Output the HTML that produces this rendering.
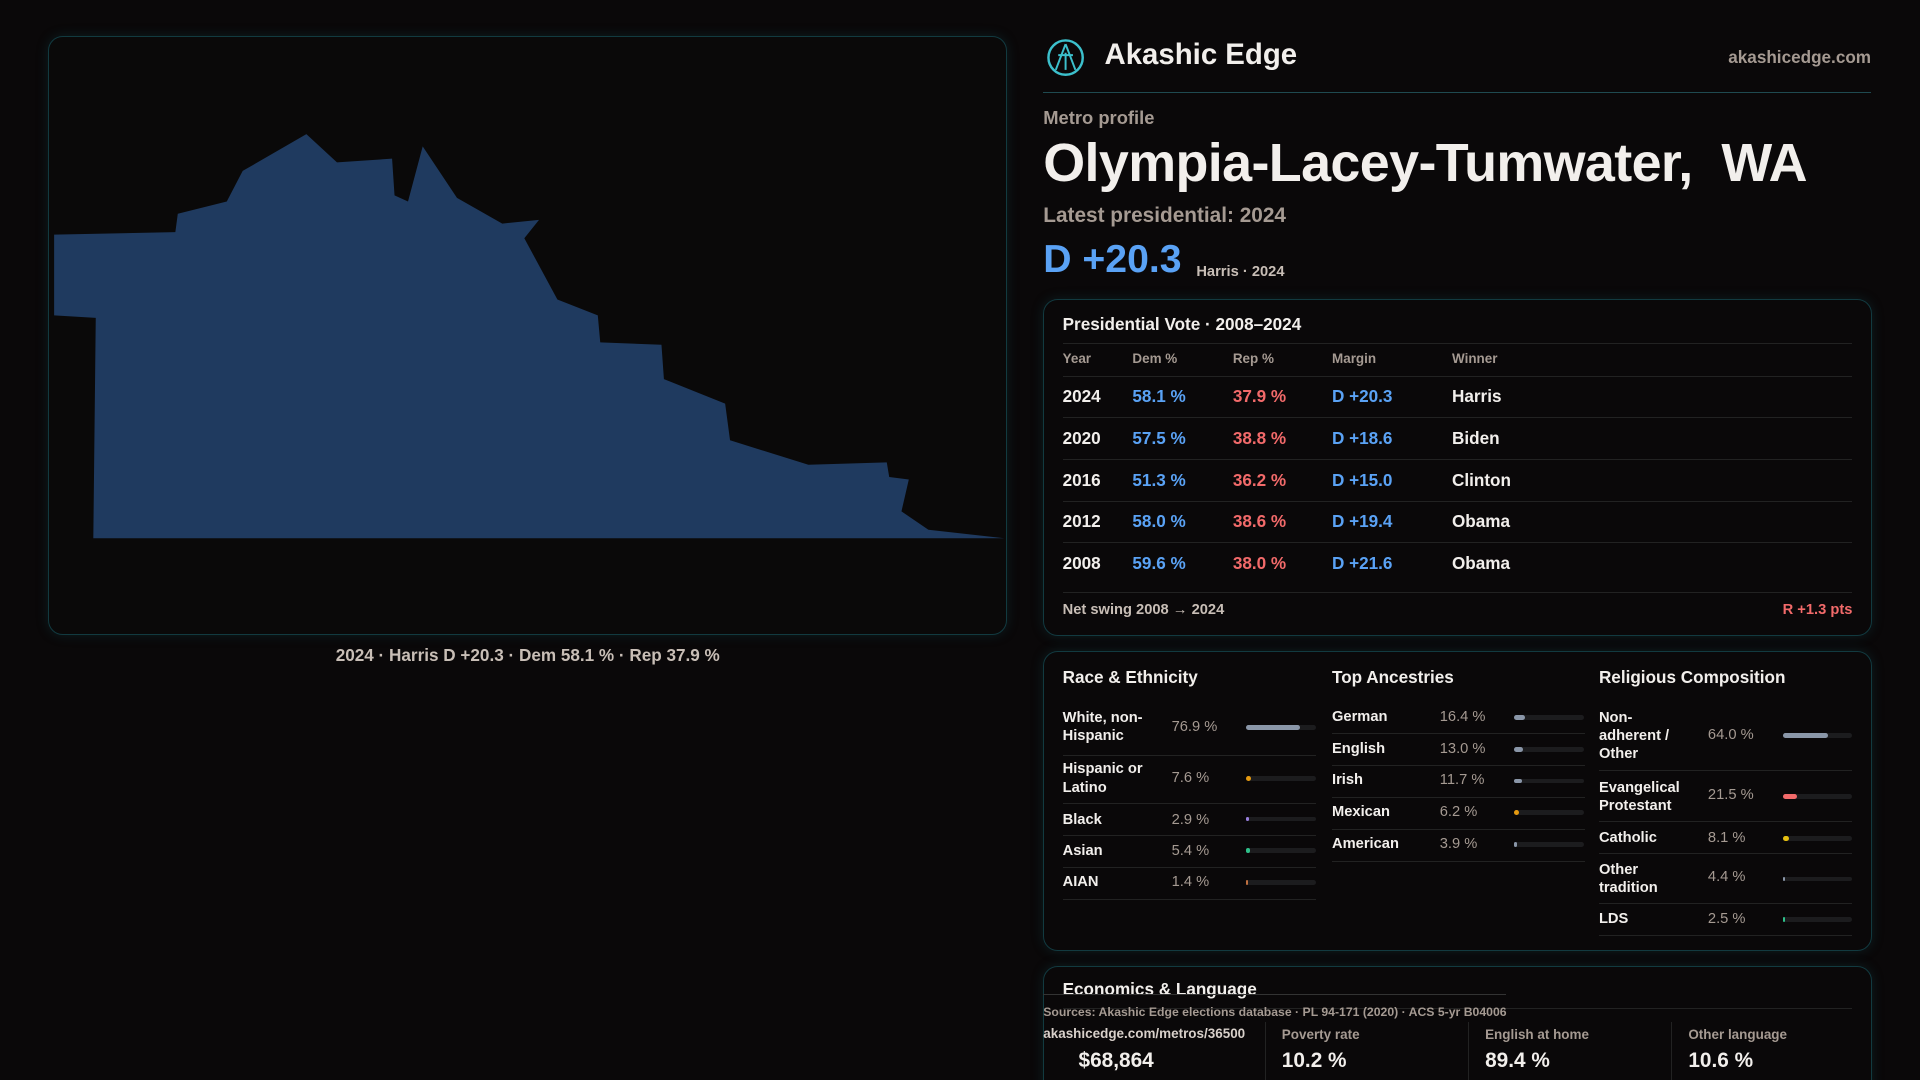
<!DOCTYPE html>
<html><head><meta charset="utf-8"><style>
html,body{margin:0;padding:0;background:#0a0809;}
#w{zoom:1.22449;width:1568px;height:882px;position:relative;overflow:hidden;font-family:"Liberation Sans",sans-serif;color:#f2efec;}
.a{position:absolute;}
.panel{position:absolute;border:1px solid #123a40;border-radius:12px;box-shadow:0 0 10px rgba(20,90,100,.25);}
.mut{color:#a59a92;}
.blue{color:#5aa2f5}.red{color:#f26a6a}
table{border-collapse:collapse;}
.row{position:absolute;left:15px;right:15px;border-top:1px solid #222;font-size:14px;font-weight:bold;}
.bar{position:absolute;height:4px;background:#1c1c1e;border-radius:2px;width:57px;}
.bar i{display:block;height:4px;border-radius:2px;}
.dl{font-size:12px;font-weight:bold;}
.dv{font-size:12px;color:#a59a92;}
</style></head><body><div id="w">
<div class="panel" style="left:39px;top:29px;width:782px;height:488px;background:#0a0909;">
<svg width="782" height="488" style="position:absolute;left:-1px;top:-1px">
<polygon fill="#1f3a5f" transform="translate(-39,-29)" points="44,192 143,190 145,175 185,165 198,140 250,110 275,133 320,130 322,160 333,165 345,120 373,162 410,183 440,180 428,195 455,245 488,258 490,280 540,282 542,310 592,330 596,360 660,380 724,378 726,390 742,392 736,418 758,433 820,440 76,440 78,260 44,258"/>
</svg></div>
<div class="a mut" style="left:0;width:862px;top:527px;text-align:center;font-size:14px;font-weight:bold;color:#c8beb6">2024 · Harris D +20.3 · Dem 58.1 % · Rep 37.9 %</div>

<svg class="a" style="left:854px;top:31px" width="32" height="32"><circle cx="16" cy="16" r="14" fill="none" stroke="#3cc0cc" stroke-width="2"/><path d="M16 5 L8 26 M16 5 L24 26 M10 14 L22 14 M16 12 L16 26" stroke="#3cc0cc" stroke-width="1.6" fill="none"/></svg>
<div class="a" style="left:902px;top:31px;font-size:24px;font-weight:bold">Akashic Edge</div>
<div class="a mut" style="right:40px;top:38px;font-size:14px;font-weight:bold">akashicedge.com</div>
<div class="a" style="left:852px;top:75px;width:676px;border-top:1px solid #1f4a50"></div>
<div class="a mut" style="left:852px;top:87px;font-size:15px;font-weight:bold">Metro profile</div>
<div class="a" style="left:852px;top:108px;font-size:44px;font-weight:bold;letter-spacing:-0.5px">Olympia-Lacey-Tumwater,&nbsp; WA</div>
<div class="a mut" style="left:852px;top:167px;font-size:17px;font-weight:bold">Latest presidential: 2024</div>
<div class="a blue" style="left:852px;top:194px;font-size:32px;font-weight:bold">D +20.3</div>
<div class="a" style="left:977px;top:216px;font-size:12px;font-weight:bold;color:#c8beb6">Harris · 2024</div>

<div class="panel" style="left:852px;top:244px;width:675px;height:274px;">
<div class="a" style="left:15px;top:12px;font-size:14px;font-weight:bold">Presidential Vote · 2008–2024</div>
<div class="a" style="left:15px;right:15px;top:35px;border-top:1px solid #222"></div>
<div class="a mut" style="top:42px;left:15px;font-size:11px;font-weight:bold">Year</div>
<div class="a mut" style="top:42px;left:72px;font-size:11px;font-weight:bold">Dem %</div>
<div class="a mut" style="top:42px;left:154px;font-size:11px;font-weight:bold">Rep %</div>
<div class="a mut" style="top:42px;left:235px;font-size:11px;font-weight:bold">Margin</div>
<div class="a mut" style="top:42px;left:333px;font-size:11px;font-weight:bold">Winner</div>
<div class="row" style="top:62px;height:34px"><span class="a" style="top:8px">2024</span><span class="a blue" style="top:8px;left:57px">58.1 %</span><span class="a red" style="top:8px;left:139px">37.9 %</span><span class="a blue" style="top:8px;left:220px">D +20.3</span><span class="a" style="top:8px;left:318px">Harris</span></div>
<div class="row" style="top:96px;height:34px"><span class="a" style="top:8px">2020</span><span class="a blue" style="top:8px;left:57px">57.5 %</span><span class="a red" style="top:8px;left:139px">38.8 %</span><span class="a blue" style="top:8px;left:220px">D +18.6</span><span class="a" style="top:8px;left:318px">Biden</span></div>
<div class="row" style="top:130px;height:34px"><span class="a" style="top:8px">2016</span><span class="a blue" style="top:8px;left:57px">51.3 %</span><span class="a red" style="top:8px;left:139px">36.2 %</span><span class="a blue" style="top:8px;left:220px">D +15.0</span><span class="a" style="top:8px;left:318px">Clinton</span></div>
<div class="row" style="top:164px;height:34px"><span class="a" style="top:8px">2012</span><span class="a blue" style="top:8px;left:57px">58.0 %</span><span class="a red" style="top:8px;left:139px">38.6 %</span><span class="a blue" style="top:8px;left:220px">D +19.4</span><span class="a" style="top:8px;left:318px">Obama</span></div>
<div class="row" style="top:198px;height:34px"><span class="a" style="top:8px">2008</span><span class="a blue" style="top:8px;left:57px">59.6 %</span><span class="a red" style="top:8px;left:139px">38.0 %</span><span class="a blue" style="top:8px;left:220px">D +21.6</span><span class="a" style="top:8px;left:318px">Obama</span></div>
<div class="a" style="left:15px;right:15px;top:239px;border-top:1px solid #222"></div>
<div class="a" style="left:15px;top:247px;font-size:12px;font-weight:bold;color:#c8beb6">Net swing 2008 → 2024</div>
<div class="a red" style="right:15px;top:247px;font-size:12px;font-weight:bold">R +1.3 pts</div>
</div>

<div class="panel" style="left:852px;top:532px;width:675px;height:243px;">
<div class="a" style="left:15px;top:12px;font-size:14px;font-weight:bold">Race &amp; Ethnicity</div>
<div class="a" style="left:235px;top:12px;font-size:14px;font-weight:bold">Top Ancestries</div>
<div class="a" style="left:453px;top:12px;font-size:14px;font-weight:bold">Religious Composition</div>
<!-- race -->
<div class="a dl" style="left:15px;top:46px;line-height:15px">White, non-<br>Hispanic</div><div class="a dv" style="left:104px;top:54px">76.9 %</div><div class="bar" style="left:165px;top:59px"><i style="width:44px;background:#8a96a8"></i></div>
<div class="a" style="left:15px;width:207px;top:84px;border-top:1px solid #222"></div>
<div class="a dl" style="left:15px;top:88px;line-height:15px">Hispanic or<br>Latino</div><div class="a dv" style="left:104px;top:96px">7.6 %</div><div class="bar" style="left:165px;top:101px"><i style="width:4px;background:#e69a10"></i></div>
<div class="a" style="left:15px;width:207px;top:123px;border-top:1px solid #222"></div>
<div class="a dl" style="left:15px;top:130px">Black</div><div class="a dv" style="left:104px;top:130px">2.9 %</div><div class="bar" style="left:165px;top:134px"><i style="width:2px;background:#9a80e0"></i></div>
<div class="a" style="left:15px;width:207px;top:149px;border-top:1px solid #222"></div>
<div class="a dl" style="left:15px;top:156px">Asian</div><div class="a dv" style="left:104px;top:156px">5.4 %</div><div class="bar" style="left:165px;top:160px"><i style="width:3px;background:#2ec08a"></i></div>
<div class="a" style="left:15px;width:207px;top:175px;border-top:1px solid #222"></div>
<div class="a dl" style="left:15px;top:181px">AIAN</div><div class="a dv" style="left:104px;top:181px">1.4 %</div><div class="bar" style="left:165px;top:186px"><i style="width:1px;background:#c07040"></i></div>
<div class="a" style="left:15px;width:207px;top:201px;border-top:1px solid #222"></div>
<!-- ancestry -->
<div class="a dl" style="left:235px;top:46px">German</div><div class="a dv" style="left:323px;top:46px">16.4 %</div><div class="bar" style="left:384px;top:51px"><i style="width:9px;background:#8a96a8"></i></div>
<div class="a" style="left:235px;width:207px;top:66px;border-top:1px solid #222"></div>
<div class="a dl" style="left:235px;top:72px">English</div><div class="a dv" style="left:323px;top:72px">13.0 %</div><div class="bar" style="left:384px;top:77px"><i style="width:7px;background:#8a96a8"></i></div>
<div class="a" style="left:235px;width:207px;top:92px;border-top:1px solid #222"></div>
<div class="a dl" style="left:235px;top:98px">Irish</div><div class="a dv" style="left:323px;top:98px">11.7 %</div><div class="bar" style="left:384px;top:103px"><i style="width:6px;background:#8a96a8"></i></div>
<div class="a" style="left:235px;width:207px;top:118px;border-top:1px solid #222"></div>
<div class="a dl" style="left:235px;top:124px">Mexican</div><div class="a dv" style="left:323px;top:124px">6.2 %</div><div class="bar" style="left:384px;top:129px"><i style="width:4px;background:#e69a10"></i></div>
<div class="a" style="left:235px;width:207px;top:144px;border-top:1px solid #222"></div>
<div class="a dl" style="left:235px;top:150px">American</div><div class="a dv" style="left:323px;top:150px">3.9 %</div><div class="bar" style="left:384px;top:155px"><i style="width:2px;background:#8a96a8"></i></div>
<div class="a" style="left:235px;width:207px;top:170px;border-top:1px solid #222"></div>
<!-- religion -->
<div class="a dl" style="left:453px;top:46px;line-height:15px">Non-<br>adherent /<br>Other</div><div class="a dv" style="left:542px;top:61px">64.0 %</div><div class="bar" style="left:603px;top:66px"><i style="width:37px;background:#8a96a8"></i></div>
<div class="a" style="left:453px;width:207px;top:96px;border-top:1px solid #222"></div>
<div class="a dl" style="left:453px;top:103px;line-height:15px">Evangelical<br>Protestant</div><div class="a dv" style="left:542px;top:110px">21.5 %</div><div class="bar" style="left:603px;top:116px"><i style="width:12px;background:#f26a6a"></i></div>
<div class="a" style="left:453px;width:207px;top:138px;border-top:1px solid #222"></div>
<div class="a dl" style="left:453px;top:145px">Catholic</div><div class="a dv" style="left:542px;top:145px">8.1 %</div><div class="bar" style="left:603px;top:150px"><i style="width:5px;background:#e6c010"></i></div>
<div class="a" style="left:453px;width:207px;top:164px;border-top:1px solid #222"></div>
<div class="a dl" style="left:453px;top:170px;line-height:15px">Other<br>tradition</div><div class="a dv" style="left:542px;top:177px">4.4 %</div><div class="bar" style="left:603px;top:183px"><i style="width:2px;background:#8a96a8"></i></div>
<div class="a" style="left:453px;width:207px;top:205px;border-top:1px solid #222"></div>
<div class="a dl" style="left:453px;top:211px">LDS</div><div class="a dv" style="left:542px;top:211px">2.5 %</div><div class="bar" style="left:603px;top:216px"><i style="width:2px;background:#2ec08a"></i></div>
<div class="a" style="left:453px;width:207px;top:231px;border-top:1px solid #222"></div>
</div>

<div class="panel" style="left:852px;top:789px;width:675px;height:120px;">
<div class="a" style="left:15px;top:10px;font-size:14px;font-weight:bold">Economics &amp; Language</div>
<div class="a" style="left:15px;right:15px;top:33px;border-top:1px solid #222"></div>
<div class="a mut" style="left:194px;top:49px;font-size:11px;font-weight:bold">Poverty rate</div>
<div class="a mut" style="left:360px;top:49px;font-size:11px;font-weight:bold">English at home</div>
<div class="a mut" style="left:526px;top:49px;font-size:11px;font-weight:bold">Other language</div>
<div class="a" style="left:28px;top:67px;font-size:17px;font-weight:bold">$68,864</div>
<div class="a" style="left:194px;top:67px;font-size:17px;font-weight:bold">10.2 %</div>
<div class="a" style="left:360px;top:67px;font-size:17px;font-weight:bold">89.4 %</div>
<div class="a" style="left:526px;top:67px;font-size:17px;font-weight:bold">10.6 %</div>
<div class="a" style="left:180px;top:45px;height:60px;border-left:1px solid #222"></div>
<div class="a" style="left:346px;top:45px;height:60px;border-left:1px solid #222"></div>
<div class="a" style="left:512px;top:45px;height:60px;border-left:1px solid #222"></div>
</div>
<div class="a" style="left:852px;top:812px;width:378px;border-top:1px solid #333"></div>
<div class="a mut" style="left:852px;top:821px;font-size:10px;font-weight:bold">Sources: Akashic Edge elections database · PL 94-171 (2020) · ACS 5-yr B04006</div>
<div class="a" style="left:852px;top:838px;font-size:11px;font-weight:bold;color:#d8d0ca">akashicedge.com/metros/36500</div>
</div></body></html>
